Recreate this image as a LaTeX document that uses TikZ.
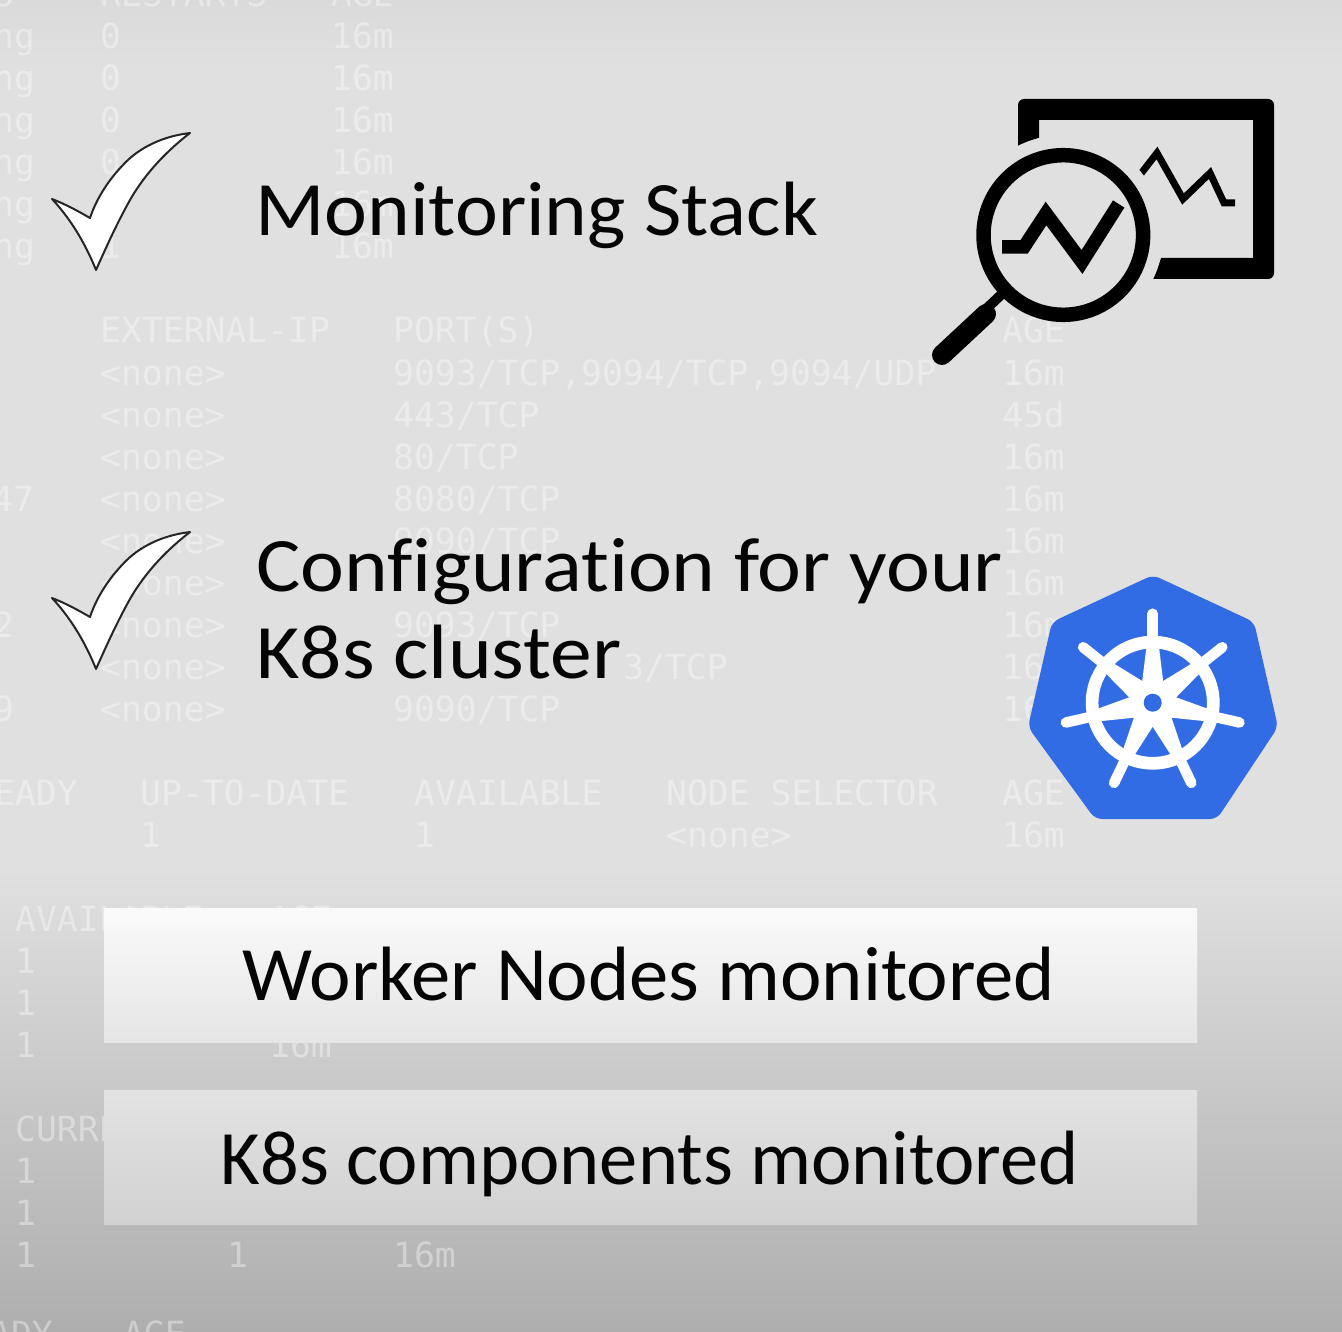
\documentclass[tikz,border=0pt]{standalone}
\usepackage{fontspec}
\setmainfont[Ligatures=NoCommon]{Carlito}
\newfontfamily\ghostfont{DejaVu Sans Mono}
\definecolor{bgmain}{HTML}{E0E0E0}
\definecolor{bgtop}{HTML}{DADADA}
\definecolor{bgbot}{HTML}{AEAEAE}
\definecolor{k8blue}{HTML}{326CE5}
\definecolor{inkblack}{HTML}{050505}
\tikzset{
  ghost/.style={anchor=base west,inner sep=0pt,xshift=-1pt,yshift=-1pt,text=white,text opacity=0.38,font=\ghostfont\fontsize{34.7}{36}\selectfont},
  bigtext/.style={anchor=base west,inner sep=0pt,text=inkblack,font=\fontsize{77}{90}\selectfont},
  tickmark/.style={fill=white,draw=black!85,line width=2pt,line join=round},
  boxa/.style={top color=white!98!black,bottom color=white!90!black,draw=none},
  boxb/.style={top color=white!89!black,bottom color=white!82!black,draw=none},
}
\newcommand{\tickshape}{(190,133) .. controls (165,136) and (140,146) .. (122,166) .. controls (107,182) and (96,200) .. (90,218) .. controls (78,211) and (65,204) .. (52,199) .. controls (68,216) and (84,240) .. (96,270) .. controls (105,250) and (116,225) .. (130,200) .. controls (146,172) and (168,150) .. (190,133) -- cycle}
\begin{document}
\begin{tikzpicture}[x=1pt,y=-1pt]
\useasboundingbox (0,0) rectangle (1342,1332);
% background
\shade[top color=bgtop,bottom color=bgmain] (0,0) rectangle (1342,70);
\fill[bgmain] (0,69) rectangle (1342,871);
\shade[top color=bgmain,bottom color=bgbot] (0,870) rectangle (1342,1332);
% monitor frame and small chart
\fill[black] (1018,147) [rounded corners=6pt] -- (1018,99) -- (1274,99) -- (1274,279) [sharp corners] -- (1153,279) -- (1161,258) -- (1253,258) -- (1253,120) -- (1039,120) -- (1039,138) -- cycle;
\draw[black,line width=7pt,miter limit=6] (1136,180) -- (1157,153) -- (1183,199) -- (1210,173) -- (1224,203) -- (1235,203);
\fill[bgmain] (1063.3,235) circle (100);
% ghost terminal text
\foreach \t/\x/\b in {S/-6/6,RESTARTS/101/6,AGE/332/6,
  ng/-6/48,0/101/48,16m/332/48,ng/-6/90,0/101/90,16m/332/90,ng/-6/132,0/101/132,16m/332/132,
  ng/-6/174,0/101/174,16m/332/174,ng/-6/216,16m/332/216,ng/-6/258,1/101/258,16m/332/258,
  EXTERNAL-IP/101/342,{PORT(S)}/394/342,AGE/1003/342,
  {443/TCP}/394/426,{80/TCP}/394/468,47/-7/510,{8080/TCP}/394/510,{9090/TCP}/394/552,
  2/-6/636,{9093/TCP}/394/636,{3/TCP}/624/678,9/-6/720,{9090/TCP}/394/720,
  EADY/-5/804,UP-TO-DATE/141/804,AVAILABLE/415/804,{NODE SELECTOR}/667/804,AGE/1003/804,
  1/141/846,1/415/846,16m/1003/846,
  AVAILABLE/16/930,AGE/270/930,1/16/972,1/16/1014,1/16/1056,16m/270/1056,
  CURRENT/16/1140,1/16/1182,1/16/1224,1/16/1266,1/228/1266,16m/394/1266,
  ADY/-9/1345,AGE/124/1345}
  {\node[ghost] at (\x,\b) {\t};}
\foreach \b in {384,426,468,510,552,594,636,678,720}
  {\node[ghost] at (101,\b) {<none>};}
\node[ghost] (ports) at (394,384) {9093/TCP,9094/TCP,9094/UDP};
\foreach \b/\t in {384/16m,426/45d,468/16m,510/16m,552/16m,594/16m,636/16m,678/16m,720/16m}
  {\node[ghost] at (1003,\b) {\t};}
\node[ghost] (nonec) at (667,846) {<none>};
% magnifier
\draw[black,line width=14.5pt] (1063.3,235) circle (79.8);
\draw[black,line width=10pt] (985,310) -- (1003,293);
\draw[black,line width=20pt,line cap=round] (942,355) -- (986,314);
\draw[black,line width=13.5pt,miter limit=6] (1002,247) -- (1024,247) -- (1046,213.5) -- (1082,262) -- (1118.7,204);
% check marks
\draw[tickmark] \tickshape;
\begin{scope}[yshift=-399pt]
\draw[tickmark] \tickshape;
\end{scope}
% headings
\node[bigtext] (mon) at (255,236) {\scalebox{1.055}[1]{Monitoring Stack}};
\node[bigtext] (cfg) at (256,591) {\scalebox{1.08}[1]{Configuration for your}};
\node[bigtext] (k8c) at (256,678) {\scalebox{1.085}[1]{K8s cluster}};
% kubernetes logo
\fill[k8blue,rounded corners=7pt] (1153,575) -- (1254,622) -- (1278,727) -- (1217,819) -- (1095,819) -- (1028,727) -- (1052,622) -- cycle;
\begin{scope}[shift={(1152.7,702.7)},x=1pt,y=1pt]
  \draw[white,line width=12.7pt] (0,0) circle (60.6);
  \foreach \a in {0,51.43,102.86,154.29,205.71,257.14,308.57}{
    \begin{scope}[rotate=\a]
      \fill[white] (-13.1,0) -- (-6,58) -- (6,58) -- (13.1,0) -- cycle;
      \draw[white,line width=10.5pt,line cap=round] (0,60) -- (0,89);
    \end{scope}
  }
  \fill[white] (0,0) circle (19);
  \fill[k8blue] (0,0) circle (9);
\end{scope}
% banners
\shade[boxa] (104,908) rectangle (1197,1042);
\shade[boxb] (104,1090) rectangle (1197,1224);
\node[bigtext,anchor=base] (wrk) at (649,1000) {\scalebox{1.022}[1]{Worker Nodes monitored}};
\node[bigtext,anchor=base] (cmp) at (649.5,1184) {\scalebox{0.993}[1]{K8s components monitored}};
\end{tikzpicture}
\end{document}
